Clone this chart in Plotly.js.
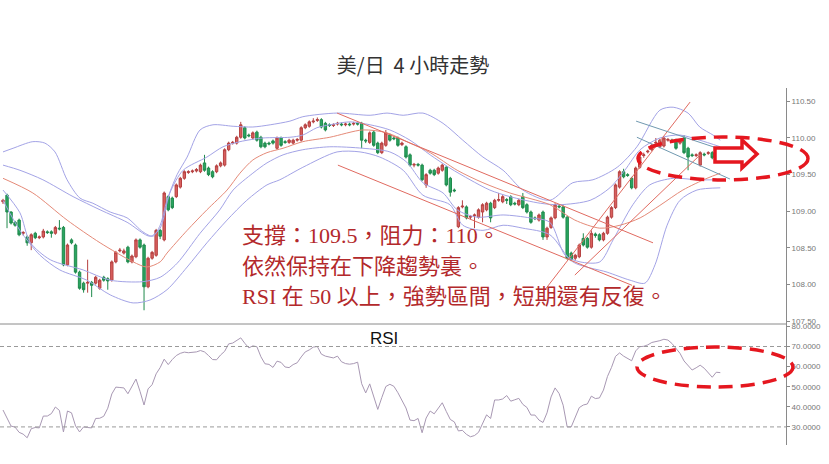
<!DOCTYPE html>
<html><head><meta charset="utf-8">
<script src="https://cdn.plot.ly/plotly-3.0.1.min.js"></script>
<style>html,body{margin:0;padding:0;background:#fff}#chart{width:829px;height:464px}</style>
</head><body><div id="chart"></div>
<script>
// ---- candle data (USD/JPY 4H) ----
const open = [
109.13,109.22,108.99,108.85,108.88,108.70,108.65,108.57,108.70,108.64,
108.65,108.72,108.72,108.70,108.77,108.78,108.27,108.61,108.54,108.17,
108.02,108.02,108.03,108.02,107.95,108.10,108.08,108.06,108.31,108.46,
108.43,108.51,108.31,108.38,108.61,108.54,107.97,108.36,108.40,108.74,
108.61,109.20,109.18,109.20,109.33,109.45,109.53,109.54,109.55,109.54,
109.66,109.59,109.54,109.54,109.62,109.63,109.84,109.93,109.93,110.01,
110.14,110.04,110.00,110.08,110.01,109.93,109.93,109.96,109.86,110.00,
109.95,109.94,109.93,109.97,109.97,110.14,110.16,110.22,110.24,110.25,
110.20,110.18,110.17,110.19,110.19,110.18,110.19,110.19,110.20,110.20,
109.97,109.94,110.08,109.93,109.80,109.90,110.04,110.00,110.00,109.91,
109.88,109.77,109.63,109.64,109.63,109.36,109.56,109.56,109.52,109.56,
109.60,109.45,109.29,108.79,109.06,109.06,108.92,108.94,108.92,108.99,
109.02,109.11,109.05,109.15,109.13,109.16,109.20,109.11,109.09,109.20,
109.09,108.99,108.91,108.88,108.99,108.65,108.78,108.91,109.07,109.06,
108.92,108.43,108.36,108.38,108.63,108.63,108.51,108.69,108.68,108.61,
108.70,108.92,109.05,109.33,109.54,109.50,109.45,109.32,109.60,109.76,
109.81,109.84,109.93,109.88,109.89,109.97,109.97,109.97,109.93,110.00,
109.86,109.77,109.76,109.63,109.78,109.79,109.80,109.77,109.73];
const close = [
109.15,108.99,108.84,108.81,108.68,108.71,108.57,108.68,108.64,108.65,
108.73,108.71,108.70,108.78,108.76,108.27,108.54,108.57,108.17,107.95,
107.93,108.03,107.99,108.10,108.06,108.06,108.05,108.31,108.44,108.47,
108.46,108.31,108.39,108.61,108.51,107.97,108.36,108.44,108.74,108.66,
109.25,109.02,109.05,109.36,109.45,109.54,109.54,109.55,109.57,109.63,
109.56,109.50,109.47,109.62,109.66,109.84,109.93,109.94,110.01,110.18,
110.00,110.03,110.07,109.97,109.88,109.88,109.92,109.93,110.00,109.90,
109.94,109.97,109.97,109.98,110.14,110.18,110.22,110.23,110.25,110.15,
110.11,110.17,110.18,110.20,110.18,110.19,110.18,110.20,110.19,109.97,
109.96,110.07,109.90,109.80,109.93,110.07,109.97,109.99,109.90,109.93,
109.74,109.63,109.64,109.63,109.43,109.50,109.52,109.50,109.59,109.63,
109.36,109.26,109.28,109.05,109.07,108.91,108.93,108.95,109.02,109.09,
109.11,108.91,109.15,109.16,109.20,109.15,109.09,109.10,109.15,109.05,
108.99,108.85,108.90,108.95,108.65,108.77,108.91,109.09,109.06,108.92,
108.36,108.34,108.40,108.54,108.54,108.51,108.70,108.67,108.61,108.70,
108.92,109.05,109.36,109.54,109.47,109.49,109.32,109.59,109.74,109.77,
109.82,109.90,109.94,109.97,110.00,109.98,109.96,109.86,109.97,109.80,
109.74,109.76,109.77,109.80,109.77,109.80,109.73,109.70,109.74];
const high = [
109.17,109.24,109.00,108.87,108.90,108.73,108.67,108.70,108.72,108.67,
108.76,108.74,108.74,108.80,108.88,108.80,108.56,108.63,108.56,108.19,
108.04,108.34,108.05,108.12,108.08,108.12,108.10,108.33,108.46,108.50,
108.49,108.53,108.41,108.63,108.63,108.56,108.38,108.46,108.76,108.76,
109.27,109.22,109.20,109.38,109.47,109.56,109.56,109.57,109.59,109.65,
109.77,109.61,109.56,109.64,109.68,109.86,109.95,109.96,110.03,110.22,
110.16,110.06,110.09,110.10,110.03,109.95,109.95,109.98,110.02,110.02,
109.97,109.99,109.99,110.00,110.16,110.20,110.24,110.27,110.28,110.27,
110.22,110.20,110.20,110.22,110.21,110.21,110.21,110.22,110.22,110.22,
109.99,110.09,110.10,109.95,109.95,110.11,110.06,110.02,110.02,109.95,
109.90,109.79,109.66,109.66,109.65,109.52,109.58,109.58,109.61,109.65,
109.62,109.47,109.31,109.07,109.15,109.08,108.95,108.97,109.04,109.11,
109.13,109.13,109.17,109.25,109.22,109.18,109.22,109.13,109.17,109.25,
109.11,109.01,108.93,108.97,109.01,108.79,108.93,109.11,109.09,109.08,
108.94,108.45,108.42,108.56,108.70,108.65,108.74,108.71,108.70,108.72,
108.94,109.07,109.38,109.56,109.58,109.52,109.47,109.61,109.76,109.80,
109.84,109.92,110.00,109.99,110.02,110.00,109.99,109.99,109.99,110.04,
109.88,109.79,109.79,109.82,109.80,109.82,109.82,109.79,109.76];
const low = [
109.10,108.77,108.82,108.79,108.66,108.67,108.53,108.47,108.62,108.62,
108.63,108.69,108.64,108.68,108.74,108.25,108.25,108.55,108.15,107.93,
107.89,107.89,107.83,108.00,107.93,108.04,107.93,108.04,108.29,108.44,
108.41,108.29,108.29,108.36,108.49,107.65,107.95,108.34,108.38,108.62,
108.59,109.00,109.03,109.18,109.31,109.43,109.51,109.52,109.53,109.52,
109.54,109.48,109.45,109.52,109.60,109.61,109.82,109.91,109.91,109.99,
109.98,110.01,109.98,109.95,109.86,109.86,109.90,109.91,109.84,109.88,
109.92,109.92,109.91,109.95,109.95,110.12,110.14,110.20,110.22,110.13,
110.09,110.15,110.15,110.17,110.16,110.16,110.16,110.17,110.17,109.86,
109.93,109.92,109.88,109.78,109.78,109.88,109.95,109.97,109.88,109.89,
109.72,109.61,109.60,109.61,109.41,109.32,109.50,109.48,109.50,109.54,
109.34,109.20,109.26,108.77,109.04,108.89,108.89,108.77,108.90,108.85,
109.00,108.85,109.03,109.13,109.11,109.10,109.07,109.08,109.07,109.03,
108.97,108.83,108.88,108.86,108.61,108.61,108.76,108.89,109.04,108.90,
108.34,108.32,108.33,108.36,108.52,108.49,108.49,108.64,108.59,108.59,
108.68,108.90,109.03,109.31,109.45,109.47,109.30,109.30,109.58,109.73,
109.79,109.82,109.91,109.86,109.87,109.95,109.94,109.84,109.91,109.78,
109.56,109.74,109.74,109.61,109.75,109.77,109.71,109.68,109.71];
// ---- RSI(14) ----
const rsi = [
38.4,34.4,30.4,29.9,27.3,26.4,24.6,29.1,29.7,29.5,
35.4,35.4,36.6,39.9,38.2,27.5,37.9,37.0,30.5,27.5,
30.0,29.7,29.5,34.2,34.3,35.3,39.3,46.4,49.8,49.6,
49.4,46.5,49.8,53.8,47.7,40.9,48.9,51.0,56.4,59.5,
63.7,61.0,63.5,65.5,66.6,67.2,66.9,67.0,67.3,68.0,
67.3,65.5,63.5,63.4,65.8,67.6,71.3,71.7,73.1,74.3,
71.6,69.3,70.3,69.9,64.9,61.4,61.1,59.6,62.7,62.1,
59.8,59.5,61.0,61.9,64.8,67.3,68.3,69.7,70.0,66.2,
65.2,64.8,64.3,65.2,62.4,61.5,61.2,61.5,62.2,51.5,
46.9,51.4,44.7,38.7,44.6,50.1,51.2,50.2,47.0,43.4,
39.4,33.4,33.1,34.2,27.1,34.4,37.9,36.5,39.4,42.0,
37.7,33.7,32.5,28.0,28.3,26.3,25.1,25.7,27.3,31.9,
36.0,34.2,43.4,43.4,43.9,45.6,42.8,43.5,44.2,41.2,
39.7,35.9,35.9,33.4,32.2,37.0,44.9,49.4,46.6,40.8,
30.0,30.0,34.6,39.6,40.9,41.4,45.3,44.1,44.4,48.3,
55.1,59.6,65.1,66.8,65.2,64.0,62.9,67.8,69.9,70.1,
70.8,72.0,72.4,72.9,73.6,73.2,71.5,68.9,66.6,62.8,
60.8,58.3,59.4,60.7,59.2,57.1,54.7,57.2,57.0];
// ---- Bollinger-style bands and moving average (bar index, price) ----
const bandOuterUpX = [0,2.5,7.4,10.4,12.9,15.9,19.1,22.3,26.6,30.8,34.7,37.2,39,40.7,43.2,45.7,48.9,52.1,57.1,62,66.3,71.2,74.4,82.9,91.1,95.3,99.3,104.2,109.2,114.1,119.1,124.1,129,135.7,141.4,146.4,152.4,157.3,163,166.3,170,172.9,176.2,178];
const bandOuterUpY = [109.81,109.86,109.95,109.93,109.81,109.43,109.18,109.11,108.99,108.91,108.72,108.66,108.81,109.15,109.50,109.74,110.11,110.18,110.16,110.15,110.18,110.23,110.29,110.34,110.31,110.34,110.31,110.34,110.20,109.97,109.74,109.56,109.29,109.15,109.39,109.43,109.60,109.88,110.38,110.42,110.34,110.15,110.04,109.97];
const bandInnerUpX = [0,4.2,9.9,17.4,24.1,30.8,36.5,39,41.4,44.7,50.6,54.6,58.8,64.5,71.2,74.4,77.9,81.1,86.1,91.1,96,101,106,110.9,115.9,120.8,125.8,133.3,138.2,145.7,150.6,154.3,158.1,163,168,172.9,178];
const bandInnerUpY = [109.63,109.56,109.43,109.20,109.02,108.85,108.66,108.77,109.25,109.56,109.74,109.88,109.95,110.00,110.01,110.04,110.14,110.18,110.22,110.18,110.11,109.97,109.77,109.59,109.43,109.29,109.20,109.11,109.09,109.15,109.32,109.56,109.84,110.00,110.04,109.97,109.88];
const maX = [0,7.4,15.9,24.1,32.3,35.7,39,40.7,45.7,50.6,55.6,58.8,62,65.5,69.5,74.4,81.1,89.3,95.3,101,106,112.7,119.1,125.8,135.7,141.9,148.1,153.1,158.1,163,168.7,174.7,178];
const maY = [109.45,109.25,108.88,108.57,108.31,108.24,108.31,108.43,108.74,109.02,109.29,109.52,109.70,109.80,109.86,109.95,110.01,110.11,110.07,109.93,109.80,109.56,109.39,109.25,109.09,108.88,108.77,108.81,108.91,109.08,109.29,109.45,109.52];
const bandInnerLoX = [0,4.2,6.7,11.7,19.9,26.6,34.7,39,43.2,48.9,53.8,57.1,62,65.5,69.5,74.4,81.1,89.3,96,100.2,104.2,109.2,112.7,117.6,124.1,130.8,135.7,139.5,143.2,148.1,151.4,156.3,160.5,166.3,172.2,178];
const bandInnerLoY = [109.29,108.98,108.58,108.34,108.20,108.06,108.04,108.10,108.29,108.70,109.02,109.29,109.52,109.66,109.77,109.84,109.88,109.86,109.81,109.67,109.39,109.25,109.02,108.92,108.95,108.91,108.85,108.40,108.31,108.31,108.61,109.09,109.36,109.45,109.43,109.43];
const bandOuterLoX = [0,4.2,9.2,14.1,20.8,26.6,32.3,36.5,40.7,45.7,50.6,55.6,60.5,65.5,68.7,74.4,82.9,88.6,93.5,99.3,104.2,110.9,114.1,119.1,124.1,129,135.7,141.4,149.9,155.6,159.3,161.8,164.8,168,172.2,178];
const bandOuterLoY = [109.15,108.74,108.40,108.20,108.06,107.86,107.75,107.79,107.93,108.24,108.57,108.88,109.15,109.36,109.43,109.60,109.81,109.81,109.74,109.56,109.22,109.09,108.81,108.74,108.81,108.77,108.68,108.31,108.17,108.06,108.02,108.27,108.81,109.15,109.29,109.32];
// ---- hand-drawn trend lines (bar index, price) ----
const downChannelTopX = [82.9,161.3], downChannelTopY = [110.34,108.57];
const downChannelBotX = [83.1,156.1], downChannelBotY = [109.63,107.99];
const upLine1X = [134.5,170.5], upLine1Y = [107.93,110.49];
const upLine2X = [141.9,173.0], upLine2Y = [108.13,109.77];
const flagTopX = [157.1,178.4], flagTopY = [110.23,109.84];
const flagBotX = [157.3,180.4], flagBotY = [110.01,109.44];
const priceTicks = [107.5,108.0,108.5,109.0,109.5,110.0,110.5];
const rsiTicks = [30,40,50,60,70,80];
const rsiLevels = [30,70];

const idx = open.map((_, i) => i);
const W = 829, H = 464;
const px = x => x / W, py = y => 1 - y / H;

const bandLine = (x, y, color) => ({type:'scatter', mode:'lines', x, y, xaxis:'x', yaxis:'y',
  line:{color, width:1, shape:'spline', smoothing:0.8}, hoverinfo:'skip'});
const straight = (x, y, color) => ({type:'scatter', mode:'lines', x, y, xaxis:'x', yaxis:'y',
  line:{color, width:1}, hoverinfo:'skip'});

const traces = [
  bandLine(bandOuterUpX, bandOuterUpY, '#a3a3e6'),
  bandLine(bandInnerUpX, bandInnerUpY, '#a3a3e6'),
  bandLine(bandInnerLoX, bandInnerLoY, '#a3a3e6'),
  bandLine(bandOuterLoX, bandOuterLoY, '#a3a3e6'),
  bandLine(maX, maY, '#e58a78'),
  straight(downChannelTopX, downChannelTopY, '#e06a60'),
  straight(downChannelBotX, downChannelBotY, '#e06a60'),
  straight(upLine1X, upLine1Y, '#e06a60'),
  straight(upLine2X, upLine2Y, '#e06a60'),
  straight(flagTopX, flagTopY, '#7099b0'),
  straight(flagBotX, flagBotY, '#7099b0'),
  {type:'candlestick', x: idx, open, high, low, close, xaxis:'x', yaxis:'y',
   increasing:{line:{color:'#b54040', width:1}, fillcolor:'#d9605e'},
   decreasing:{line:{color:'#1f8a4c', width:1}, fillcolor:'#2aa561'},
   whiskerwidth:0, hoverinfo:'skip'},
  {type:'scatter', mode:'lines', x: idx, y: rsi, xaxis:'x', yaxis:'y2',
   line:{color:'#a898b3', width:1}, hoverinfo:'skip'}
];

const arrowPts = [[715,148],[742,148],[742,140],[757,154],[742,168],[742,162],[715,162]];
const arrowPath = 'M ' + arrowPts.map(p => px(p[0]).toFixed(5) + ',' + py(p[1]).toFixed(5)).join(' L ') + ' Z';

const shapes = [
  {type:'line', xref:'paper', yref:'paper', x0:0, x1:px(786), y0:py(324), y1:py(324), line:{color:'#8a8a8a', width:1}},
  ...rsiLevels.map(v => ({type:'line', xref:'paper', yref:'y2', x0:0, x1:px(786), y0:v, y1:v, line:{color:'#9a9a9a', width:1, dash:'4px,3px'}})),
  {type:'circle', xref:'paper', yref:'paper', x0:px(638), x1:px(808), y0:py(180), y1:py(137), line:{color:'#e5171f', width:3.5, dash:'14px,8px'}, layer:'above'},
  {type:'circle', xref:'paper', yref:'paper', x0:px(637), x1:px(793), y0:py(387), y1:py(347), line:{color:'#e5171f', width:3.5, dash:'14px,8px'}, layer:'above'},
  {type:'path', xref:'paper', yref:'paper', path: arrowPath, fillcolor:'#ffffff', line:{color:'#e5171f', width:3.5}, layer:'above'}
];

const textFont = {family:'Liberation Serif, Noto Sans CJK TC, serif', size:22, color:'#b3292b'};
const annotations = [
  {xref:'paper', yref:'paper', x:px(240), y:py(236), xanchor:'left', yanchor:'middle', showarrow:false, text:'支撐：109.5，阻力：110。', font:textFont},
  {xref:'paper', yref:'paper', x:px(240), y:py(266), xanchor:'left', yanchor:'middle', showarrow:false, text:'依然保持在下降趨勢裏。', font:textFont},
  {xref:'paper', yref:'paper', x:px(240), y:py(296), xanchor:'left', yanchor:'middle', showarrow:false, text:'RSI 在 50 以上，強勢區間，短期還有反復。', font:textFont},
  {xref:'paper', yref:'paper', x:px(384), y:py(338), xanchor:'center', yanchor:'middle', showarrow:false, text:'RSI', font:{family:'Liberation Sans, Arial, sans-serif', size:17, color:'#111'}}
];

const axisCommon = {side:'right', anchor:'x', showline:true, linecolor:'#8a8a8a', linewidth:1,
  ticks:'outside', ticklen:3, tickcolor:'#8a8a8a', showgrid:false, zeroline:false,
  tickfont:{family:'Liberation Sans, Arial, sans-serif', size:8, color:'#777'}, fixedrange:true};

const layout = {
  width: W, height: H, margin:{l:0, r:0, t:0, b:0},
  paper_bgcolor:'#ffffff', plot_bgcolor:'#ffffff', showlegend:false, boxgap:0.15,
  title:{text:'美/日  4 小時走勢', x:px(413), y:py(66), xanchor:'center', yanchor:'middle',
    font:{family:'Noto Sans CJK TC, sans-serif', size:20, color:'#333'}},
  xaxis:{domain:[0, px(786)], range:[-0.744, 194.3], visible:false, rangeslider:{visible:false}, fixedrange:true},
  yaxis:Object.assign({}, axisCommon, {domain:[py(324), py(88)], range:[107.4625, 110.682], tickvals:priceTicks, tickformat:'.2f'}),
  yaxis2:Object.assign({}, axisCommon, {domain:[py(445), py(324)], range:[21.0, 81.19], tickvals:rsiTicks, tickformat:'.4f'}),
  shapes, annotations
};

Plotly.newPlot('chart', traces, layout, {staticPlot:true, displayModeBar:false});
</script>
</body></html>
